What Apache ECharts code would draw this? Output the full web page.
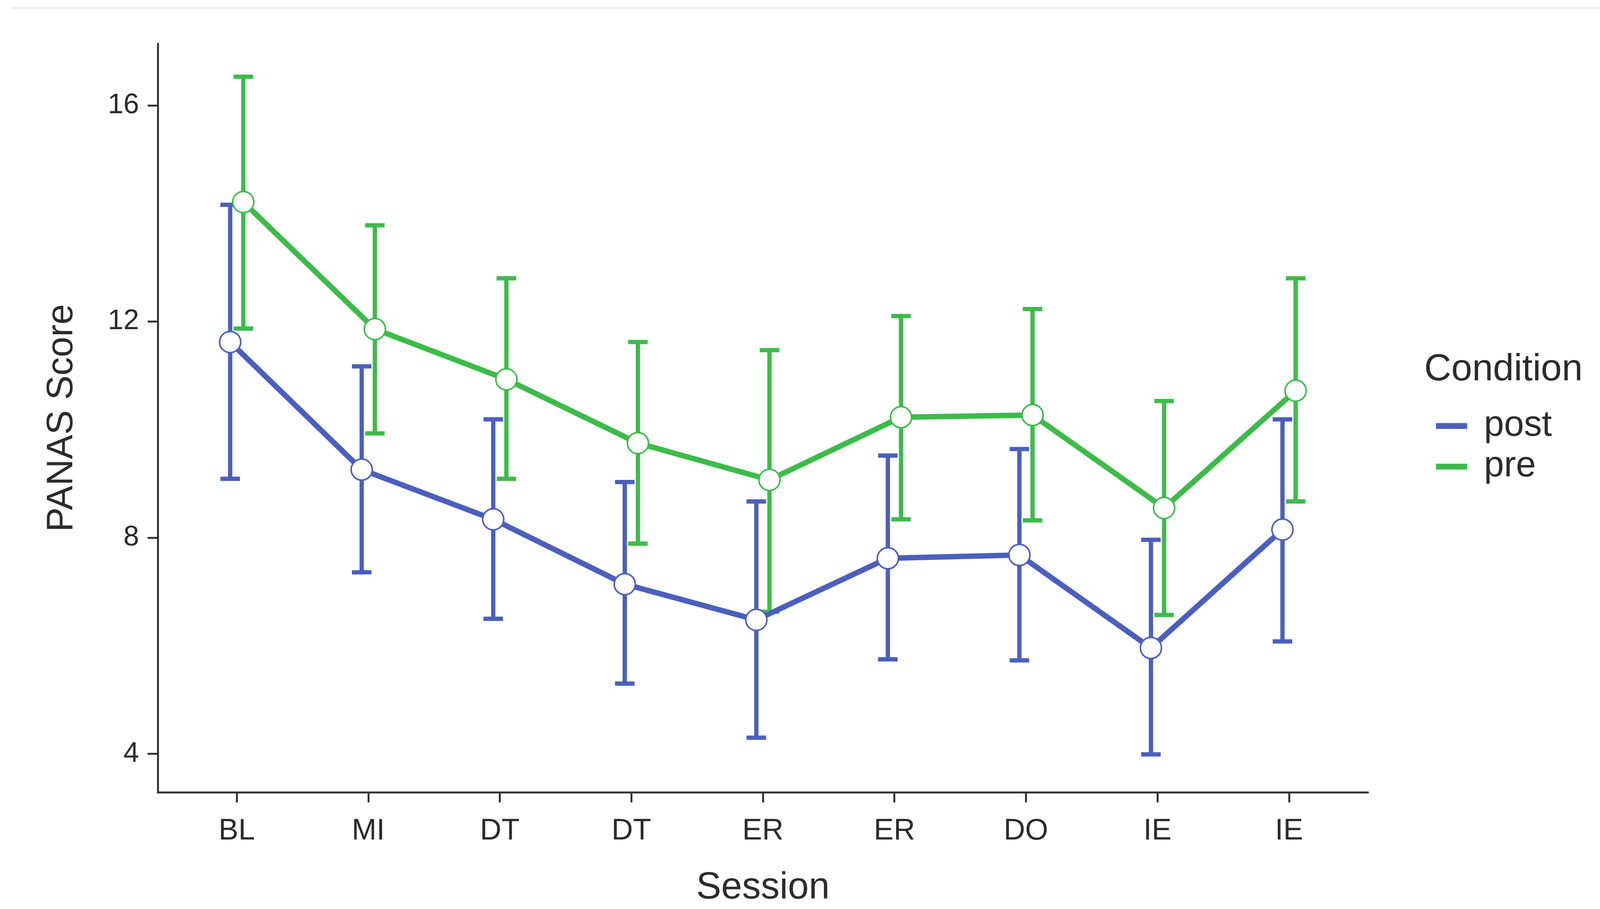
<!DOCTYPE html>
<html>
<head>
<meta charset="utf-8">
<script src="https://cdn.jsdelivr.net/npm/echarts@6/dist/echarts.min.js"></script>
<style>
html,body{margin:0;padding:0;background:#fff;}
#chart{width:4155px;height:2328px;}
</style>
</head>
<body>
<div id="chart"></div>
<script>
// ---- data ----
const sessions = ['BL', 'MI', 'DT', 'DT', 'ER', 'ER', 'DO', 'IE', 'IE'];
const postMean = [11.62, 9.26, 8.34, 7.14, 6.48, 7.62, 7.68, 5.96, 8.15];
const postLow  = [9.09, 7.36, 6.50, 5.30, 4.30, 5.75, 5.73, 3.99, 6.08];
const postHigh = [14.16, 11.17, 10.19, 9.03, 8.67, 9.52, 9.64, 7.96, 10.19];
const preMean  = [14.21, 11.86, 10.93, 9.75, 9.07, 10.23, 10.27, 8.55, 10.72];
const preLow   = [11.87, 9.93, 9.09, 7.89, 6.63, 8.34, 8.32, 6.57, 8.67];
const preHigh  = [16.53, 13.78, 12.80, 11.62, 11.47, 12.10, 12.23, 10.53, 12.80];
const yTicks = [4, 8, 12, 16];

// ---- style ----
const BLUE = '#4B5FBC';
const GREEN = '#3DBB4A';
const TEXT = '#2b2b2b';
const AXIS = '#333333';
const FONT = '"Liberation Sans", Arial, Helvetica, sans-serif';
const DODGE = 0.05;
const CAP_HALF = 25;

const chart = echarts.init(document.getElementById('chart'), null, {renderer: 'canvas'});

function shifted(means, off) {
  return means.map((v, i) => [i + off, v]);
}
function bars(lo, hi, off) {
  return lo.map((v, i) => [i + off, v, hi[i]]);
}
function errRender(color) {
  return function (params, api) {
    const x = api.value(0);
    const top = api.coord([x, api.value(2)]);
    const bot = api.coord([x, api.value(1)]);
    const st = {stroke: color, lineWidth: 11, lineCap: 'butt'};
    return {
      type: 'group',
      children: [
        {type: 'line', shape: {x1: top[0], y1: top[1], x2: bot[0], y2: bot[1]}, style: st},
        {type: 'line', shape: {x1: top[0] - CAP_HALF, y1: top[1], x2: top[0] + CAP_HALF, y2: top[1]}, style: st},
        {type: 'line', shape: {x1: bot[0] - CAP_HALF, y1: bot[1], x2: bot[0] + CAP_HALF, y2: bot[1]}, style: st}
      ]
    };
  };
}

const idx = sessions.map((s, i) => i);

const option = {
  backgroundColor: '#ffffff',
  animation: false,
  graphic: [
    {type: 'rect', shape: {x: 27, y: 19, width: 4123, height: 3}, style: {fill: '#e7e8de'}, silent: true}
  ],
  title: {
    text: 'Condition',
    left: 3646,
    top: 898,
    padding: 0,
    textStyle: {fontFamily: FONT, fontSize: 96, fontWeight: 'normal', color: TEXT, lineHeight: 100}
  },
  legend: {
    orient: 'vertical',
    left: 3676,
    top: 1045,
    padding: 0,
    itemWidth: 80,
    itemHeight: 15,
    itemGap: 12,
    data: [
      {name: 'post', icon: 'rect', itemStyle: {color: BLUE}},
      {name: 'pre', icon: 'rect', itemStyle: {color: GREEN}}
    ],
    textStyle: {fontFamily: FONT, fontSize: 92, color: TEXT, lineHeight: 92, padding: [0, 0, 0, 38]}
  },
  grid: {left: 404, right: 653, top: 112, bottom: 288},
  xAxis: {
    type: 'value',
    min: -0.6,
    max: 8.6,
    name: 'Session',
    nameLocation: 'middle',
    nameGap: 198,
    nameTextStyle: {fontFamily: FONT, fontSize: 96, color: TEXT},
    splitLine: {show: false},
    axisLine: {show: true, onZero: false, lineStyle: {color: AXIS, width: 5}},
    axisTick: {show: true, customValues: idx, length: 26, lineStyle: {color: AXIS, width: 5}},
    axisLabel: {
      customValues: idx,
      margin: 62,
      fontFamily: FONT,
      fontSize: 76,
      color: TEXT,
      formatter: function (v) { return sessions[Math.round(v)]; }
    }
  },
  yAxis: {
    type: 'value',
    min: 3.29,
    max: 17.14,
    name: 'PANAS Score',
    nameLocation: 'middle',
    nameGap: 198,
    nameTextStyle: {fontFamily: FONT, fontSize: 94, color: TEXT},
    splitLine: {show: false},
    axisLine: {show: true, onZero: false, lineStyle: {color: AXIS, width: 5}},
    axisTick: {show: true, customValues: yTicks, length: 26, lineStyle: {color: AXIS, width: 5}},
    axisLabel: {customValues: yTicks, margin: 48, fontFamily: FONT, fontSize: 72, color: TEXT}
  },
  series: [
    {
      name: 'preErr', type: 'custom', z: 1,
      renderItem: errRender(GREEN),
      encode: {x: 0, y: [1, 2]},
      data: bars(preLow, preHigh, DODGE)
    },
    {
      name: 'postErr', type: 'custom', z: 1,
      renderItem: errRender(BLUE),
      encode: {x: 0, y: [1, 2]},
      data: bars(postLow, postHigh, -DODGE)
    },
    {
      name: 'pre', type: 'line', z: 2, symbol: 'none',
      itemStyle: {color: GREEN},
      lineStyle: {color: GREEN, width: 14},
      data: shifted(preMean, DODGE)
    },
    {
      name: 'post', type: 'line', z: 2, symbol: 'none',
      itemStyle: {color: BLUE},
      lineStyle: {color: BLUE, width: 14},
      data: shifted(postMean, -DODGE)
    },
    {
      name: 'prePts', type: 'scatter', z: 3, symbol: 'circle', symbolSize: 54,
      itemStyle: {color: '#ffffff', borderColor: GREEN, borderWidth: 4, opacity: 1},
      data: shifted(preMean, DODGE)
    },
    {
      name: 'postPts', type: 'scatter', z: 3, symbol: 'circle', symbolSize: 54,
      itemStyle: {color: '#ffffff', borderColor: BLUE, borderWidth: 4, opacity: 1},
      data: shifted(postMean, -DODGE)
    }
  ]
};
chart.setOption(option);
</script>
</body>
</html>
